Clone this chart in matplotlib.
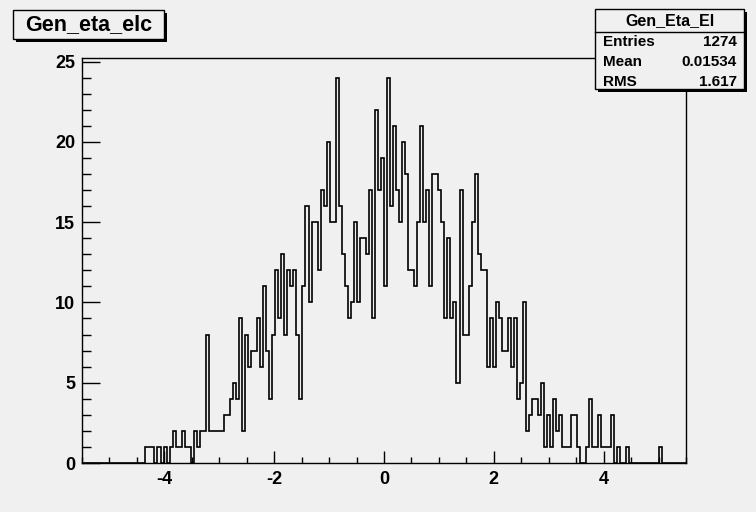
import numpy as np
import matplotlib
matplotlib.use("Agg")
import matplotlib.pyplot as plt
from matplotlib.patches import Rectangle
from matplotlib.ticker import MultipleLocator

plt.rcParams['font.family'] = ['Liberation Sans', 'DejaVu Sans']
plt.rcParams['axes.unicode_minus'] = False

# histogram binning: 200 bins on [-5.5, 5.5]
x_lo, x_hi, n_bins = -5.5, 5.5, 200

# bin contents (bins 0..199)
counts = [0] * 21 + [
    1, 1, 1, 0, 1, 0, 1, 0, 1, 2,          # 21-30
    1, 1, 2, 1, 1, 0, 2, 1, 2, 2,          # 31-40
    8, 2, 2, 2, 2, 2, 3, 3, 4, 5,          # 41-50
    4, 9, 2, 8, 6, 7, 7, 9, 6, 11,         # 51-60
    7, 4, 8, 12, 9, 13, 8, 12, 11, 12,     # 61-70
    8, 4, 11, 16, 10, 15, 15, 12, 17, 16,  # 71-80
    20, 15, 15, 24, 16, 13, 11, 9, 10, 15, # 81-90
    10, 14, 14, 13, 17, 9, 22, 17, 19, 11, # 91-100
    24, 16, 21, 17, 15, 20, 18, 12, 12, 11,# 101-110
    15, 21, 15, 17, 11, 18, 18, 17, 15, 9, # 111-120
    14, 9, 10, 5, 17, 8, 8, 11, 15, 18,    # 121-130
    13, 12, 12, 6, 9, 6, 10, 9, 7, 7,      # 131-140
    9, 6, 9, 4, 5, 10, 2, 3, 4, 4,         # 141-150
    3, 5, 1, 3, 1, 4, 2, 3, 1, 1,          # 151-160
    1, 3, 3, 1, 0, 0, 1, 4, 1, 1,          # 161-170
    3, 1, 1, 1, 3, 0, 1, 0, 0, 1,          # 171-180
    0, 0, 0, 0, 0, 0, 0, 0, 0, 0,          # 181-190
    1,                                     # 191
] + [0] * 8

hist_title = "Gen_eta_elc"
stats_name = "Gen_Eta_El"
stats_rows = [("Entries", "1274"), ("Mean", "0.01534"), ("RMS", "1.617")]

bg = "#f0f0f0"
W, H = 756, 512

fig = plt.figure(figsize=(W / 100, H / 100), dpi=100, facecolor=bg)

# frame in pixel coords
fl, fr, ft, fb = 82, 686, 58.3, 463
ax = fig.add_axes([fl / W, 1 - fb / H, (fr - fl) / W, (fb - ft) / H])
ax.set_facecolor(bg)

edges = np.linspace(x_lo, x_hi, n_bins + 1)
ax.stairs(counts, edges, color="black", linewidth=1.2, baseline=0)

ax.set_xlim(x_lo, x_hi)
ax.set_ylim(0, max(counts) * 1.05)

ax.xaxis.set_major_locator(MultipleLocator(2))
ax.xaxis.set_minor_locator(MultipleLocator(0.5))
ax.yaxis.set_major_locator(MultipleLocator(5))
ax.yaxis.set_minor_locator(MultipleLocator(1))

ax.tick_params(axis="x", which="major", direction="in", length=8.6, width=1.0,
               labelsize=13, pad=5.5)
ax.tick_params(axis="x", which="minor", direction="in", length=4.3, width=1.0)
ax.tick_params(axis="y", which="major", direction="in", length=13, width=1.0,
               labelsize=13, pad=5)
ax.tick_params(axis="y", which="minor", direction="in", length=6.5, width=1.0)
for lab in ax.get_xticklabels() + ax.get_yticklabels():
    lab.set_fontweight("bold")
for sp in ax.spines.values():
    sp.set_linewidth(1.0)


def px_rect(x0, y0, x1, y1, **kw):
    # rectangle given in pixel coordinates from the top-left corner
    return Rectangle((x0 / W, 1 - y1 / H), (x1 - x0) / W, (y1 - y0) / H,
                     transform=fig.transFigure, **kw)


# title box with shadow
fig.add_artist(px_rect(16.3, 13, 167, 41.5, facecolor="black", edgecolor="none"))
fig.add_artist(px_rect(13.3, 10, 164, 38.5, facecolor=bg, edgecolor="black", linewidth=1.0))
fig.text(88.7 / W, 1 - 24.5 / H, hist_title, fontsize=15.5, fontweight="bold",
         ha="center", va="center")

# stats box with shadow
sx0, sy0, sx1, sy1 = 595, 9.3, 744.3, 89.3
fig.add_artist(px_rect(sx0 + 3, sy0 + 3, sx1 + 3, sy1 + 3, facecolor="black", edgecolor="none"))
fig.add_artist(px_rect(sx0, sy0, sx1, sy1, facecolor=bg, edgecolor="black", linewidth=1.0))
fig.add_artist(plt.Line2D([sx0 / W, sx1 / W], [1 - 31.7 / H, 1 - 31.7 / H],
                          transform=fig.transFigure, color="black", linewidth=1.0))
fig.text((sx0 + sx1) / 2 / W, 1 - 20.5 / H, stats_name, fontsize=11.5, fontweight="bold",
         ha="center", va="center")
for i, (name, val) in enumerate(stats_rows):
    yy = 1 - (41.7 + 20 * i) / H
    fig.text(602.7 / W, yy, name, fontsize=11, fontweight="bold", ha="left", va="center")
    fig.text(736.7 / W, yy, val, fontsize=11, fontweight="bold", ha="right", va="center")

fig.savefig("out.png", dpi=100, facecolor=bg)
